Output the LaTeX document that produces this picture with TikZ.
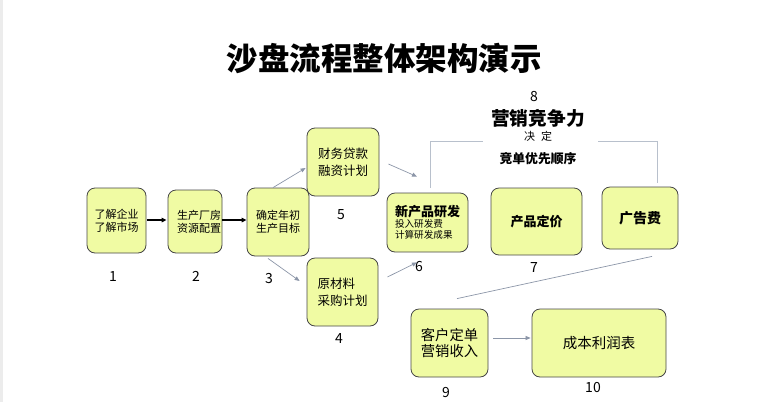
\documentclass[tikz,border=0pt]{standalone}
\usepackage{fontspec}
\setmainfont{Noto Sans CJK SC}
\usetikzlibrary{arrows.meta,calc}
\definecolor{boxfill}{RGB}{240,251,163}
\definecolor{boxline}{RGB}{70,70,70}
\definecolor{garrow}{RGB}{140,150,168}
\definecolor{bracketc}{RGB}{184,192,204}
\definecolor{edgegray}{RGB}{236,236,236}
\begin{document}
\begin{tikzpicture}[x=1pt,y=-1pt,
  box/.style={draw=boxline,fill=boxfill,rounded corners=8pt,line width=0.8pt,align=center,inner sep=0pt},
  txa/.style={font=\fontsize{11}{12.8}\selectfont},
  txb/.style={font=\fontsize{12.5}{16.5}\selectfont},
  num/.style={font=\fontsize{14}{14}\selectfont,inner sep=0pt},
  blk/.style={-{Triangle[length=5pt,width=4.5pt]},line width=1.5pt,black},
  gry/.style={-{Triangle[length=5pt,width=4pt]},line width=0.7pt,garrow},
  gline/.style={line width=0.7pt,garrow},
  brk/.style={line width=0.8pt,bracketc}]
\useasboundingbox (0,0) rectangle (770,402);
\fill[edgegray] (0,0) rectangle (2.5,402);
% title
\node[font=\fontsize{31.5}{32}\selectfont\bfseries,inner sep=0pt] (title) at (384,58) {沙盘流程整体架构演示};
% boxes
\node[box,txa,minimum width=59pt,minimum height=65pt] (b1) at (116.5,220.5) {了解企业\\了解市场};
\node[box,txa,minimum width=54pt,minimum height=63pt] (b2) at (195,221.5) {\hspace*{8pt}生产厂房\\\hspace*{8pt}资源配置};
\node[box,txa,minimum width=62pt,minimum height=68pt] (b3) at (278,222) {确定年初\\生产目标};
\node[box,txb,minimum width=72pt,minimum height=68pt] (b5) at (343,162) {财务贷款\\融资计划};
\node[box,txb,minimum width=71pt,minimum height=68pt] (b4) at (342.5,292) {原材料\hspace*{12.5pt}\\采购计划};
\node[box,align=left,minimum width=81pt,minimum height=59pt] (b6) at (427.5,222.5)
  {{\fontsize{13}{15}\selectfont\bfseries 新产品研发}\\[-1pt]{\fontsize{9.6}{11.5}\selectfont 投入研发费}\\[-1pt]{\fontsize{9.6}{11.5}\selectfont 计算研发成果}};
\node[box,minimum width=91pt,minimum height=67pt,font=\fontsize{13}{15}\selectfont\bfseries] (b7) at (536.5,221.5) {产品定价};
\node[box,minimum width=76pt,minimum height=62pt,font=\fontsize{14}{16}\selectfont\bfseries] (b8) at (640,218) {广告费};
\node[box,minimum width=77pt,minimum height=68pt,font=\fontsize{14.3}{16.7}\selectfont] (b9) at (449.5,343) {客户定单\\营销收入};
\node[box,minimum width=134pt,minimum height=68pt,font=\fontsize{14.5}{16}\selectfont] (b10) at (599,343) {成本利润表};
% numbers
\node[num] (n1) at (113,277) {1};
\node[num] (n2) at (196,276) {2};
\node[num] (n3) at (269,279) {3};
\node[num] (n4) at (339,339) {4};
\node[num] (n5) at (341,215) {5};
\node[num] (n6) at (419,267) {6};
\node[num] (n7) at (534,268) {7};
\node[num] (n8) at (534,97) {8};
\node[num] (n9) at (446,393) {9};
\node[num] (n10) at (593,388) {10};
% marketing header
\node[font=\fontsize{18.7}{20}\selectfont\bfseries,inner sep=0pt] (mk) at (538,118) {营销竞争力};
\node[font=\fontsize{11}{12}\selectfont,inner sep=0pt] (jd) at (538,136) {决\hspace{6pt}定};
\node[font=\fontsize{12.8}{14}\selectfont\bfseries,inner sep=0pt] (jdyx) at (538,159) {竞单优先顺序};
% bracket
\coordinate (bl) at ($(b6.north)+(2.5,-5)$);
\coordinate (br) at ($(b8.north)+(17,-4)$);
\draw[brk] (bl) -- (bl |- 0,141) -- (483,141);
\draw[brk] (598,141) -- (br |- 0,141) -- (br);
% connectors
\draw[blk] ($(b1.east)+(0.5,-0.5)$) -- ($(b2.west)+(-1,-1.5)$);
\draw[blk] ($(b2.east)+(0,-1.5)$) -- ($(b3.west)+(0,-2)$);
\draw[gry] ($(b3.north)+(-5,0)$) -- ($(b5.west)+(-1,6)$);
\draw[gry] ($(b3.south)+(-10,2)$) -- ($(b4.west)+(-7,-11)$);
\draw[gry] ($(b5.east)+(9,2)$) -- ($(b6.north)+(-10.5,-16)$);
\draw[gry] ($(b4.east)+(9,-15)$) -- ($(b6.south)+(-10.5,10)$);
\draw[gline] ($(b8.south)+(12,7)$) -- ($(b9.north)+(7.5,-10)$);
\draw[gry] ($(b9.east)+(5,-5)$) -- ($(b10.west)+(-1,-5)$);
\end{tikzpicture}
\end{document}
